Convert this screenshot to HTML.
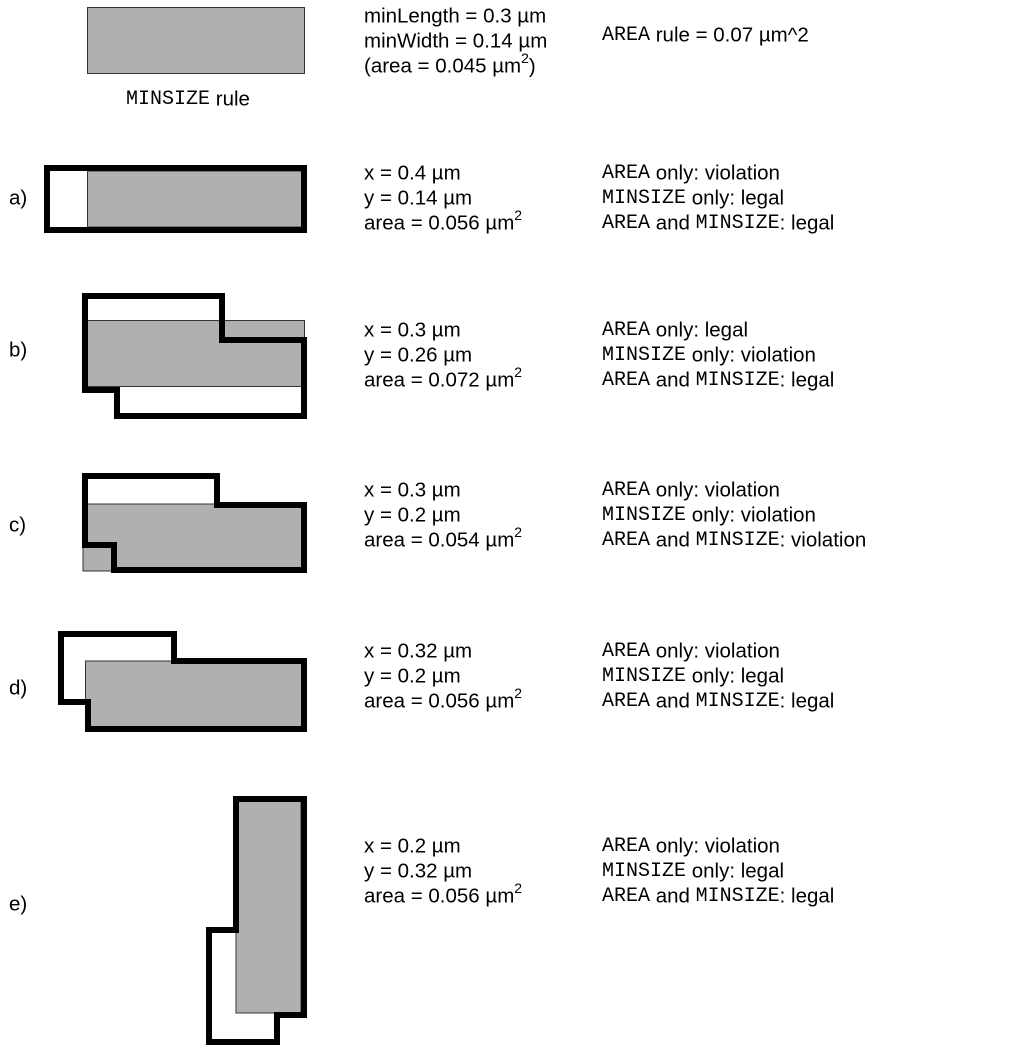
<!DOCTYPE html>
<html><head><meta charset="utf-8"><style>
html,body{margin:0;padding:0;background:#fff}
svg{display:block}
text{font-family:"Liberation Sans",sans-serif;font-size:20.5px;fill:#000}
.m{font-family:"Liberation Mono",monospace;font-size:20px}
</style></head><body>
<svg width="1013" height="1054" viewBox="0 0 1013 1054" xmlns="http://www.w3.org/2000/svg">
<g fill="#b0b0b0" stroke="#333" stroke-width="1">
<rect x="87.5" y="7.5" width="217" height="66"/>
<rect x="87.5" y="171" width="214" height="56"/>
<rect x="87.5" y="320.5" width="217" height="66"/>
<rect x="83" y="504" width="220" height="67"/>
<rect x="85.5" y="661" width="216" height="68"/>
<rect x="236" y="801" width="65" height="212"/>
</g>
<g fill="none" stroke="#000" stroke-width="6" stroke-linejoin="miter">
<rect x="47" y="168" width="257" height="62"/>
<polygon points="85,296 222,296 222,340 304,340 304,416 117,416 117,390 85,390"/>
<polygon points="85,476 217,476 217,505 304,505 304,570 114,570 114,545 85,545"/>
<polygon points="61,634 174,634 174,661 304,661 304,729 88,729 88,702 61,702"/>
<polygon points="236,799 304,799 304,1015 277,1015 277,1042 209,1042 209,930 236,930"/>
</g>
<g dominant-baseline="central">
<text x="188" y="99" text-anchor="middle"><tspan class="m">MINSIZE</tspan> rule</text>
<text x="364" y="16">minLength = 0.3 µm</text>
<text x="364" y="41">minWidth = 0.14 µm</text>
<text x="364" y="66">(area = 0.045 µm<tspan font-size="14" dy="-8">2</tspan><tspan dy="8">)</tspan></text>
<text x="602" y="35"><tspan class="m">AREA</tspan> rule = 0.07 µm^2</text>

<text x="9" y="198">a)</text>
<text x="364" y="173">x = 0.4 µm</text>
<text x="364" y="198">y = 0.14 µm</text>
<text x="364" y="223">area = 0.056 µm<tspan font-size="14" dy="-8">2</tspan></text>
<text x="602" y="173"><tspan class="m">AREA</tspan> only: violation</text>
<text x="602" y="198"><tspan class="m">MINSIZE</tspan> only: legal</text>
<text x="602" y="223"><tspan class="m">AREA</tspan> and <tspan class="m">MINSIZE</tspan>: legal</text>

<text x="9" y="350">b)</text>
<text x="364" y="330">x = 0.3 µm</text>
<text x="364" y="355">y = 0.26 µm</text>
<text x="364" y="380">area = 0.072 µm<tspan font-size="14" dy="-8">2</tspan></text>
<text x="602" y="330"><tspan class="m">AREA</tspan> only: legal</text>
<text x="602" y="355"><tspan class="m">MINSIZE</tspan> only: violation</text>
<text x="602" y="380"><tspan class="m">AREA</tspan> and <tspan class="m">MINSIZE</tspan>: legal</text>

<text x="9" y="525">c)</text>
<text x="364" y="490">x = 0.3 µm</text>
<text x="364" y="515">y = 0.2 µm</text>
<text x="364" y="540">area = 0.054 µm<tspan font-size="14" dy="-8">2</tspan></text>
<text x="602" y="490"><tspan class="m">AREA</tspan> only: violation</text>
<text x="602" y="515"><tspan class="m">MINSIZE</tspan> only: violation</text>
<text x="602" y="540"><tspan class="m">AREA</tspan> and <tspan class="m">MINSIZE</tspan>: violation</text>

<text x="9" y="688">d)</text>
<text x="364" y="651">x = 0.32 µm</text>
<text x="364" y="676">y = 0.2 µm</text>
<text x="364" y="701">area = 0.056 µm<tspan font-size="14" dy="-8">2</tspan></text>
<text x="602" y="651"><tspan class="m">AREA</tspan> only: violation</text>
<text x="602" y="676"><tspan class="m">MINSIZE</tspan> only: legal</text>
<text x="602" y="701"><tspan class="m">AREA</tspan> and <tspan class="m">MINSIZE</tspan>: legal</text>

<text x="9" y="904">e)</text>
<text x="364" y="846">x = 0.2 µm</text>
<text x="364" y="871">y = 0.32 µm</text>
<text x="364" y="896">area = 0.056 µm<tspan font-size="14" dy="-8">2</tspan></text>
<text x="602" y="846"><tspan class="m">AREA</tspan> only: violation</text>
<text x="602" y="871"><tspan class="m">MINSIZE</tspan> only: legal</text>
<text x="602" y="896"><tspan class="m">AREA</tspan> and <tspan class="m">MINSIZE</tspan>: legal</text>
</g>
</svg>
</body></html>
